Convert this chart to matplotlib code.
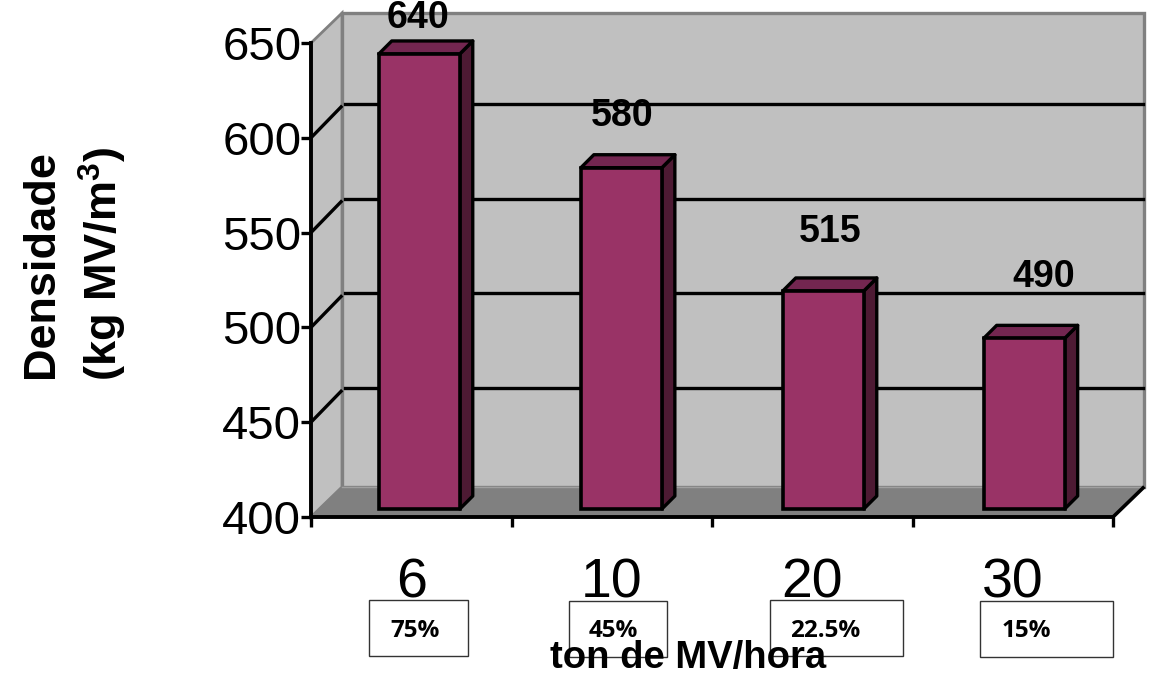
import matplotlib
matplotlib.use('Agg')
import matplotlib.pyplot as plt
from matplotlib.patches import Polygon, Rectangle

categories = ['6', '10', '20', '30']
densidade = [640, 580, 515, 490]
percent_labels = ['75%', '45%', '22.5%', '15%']
y_ticks = [400, 450, 500, 550, 600, 650]

W, H = 1161, 677
AX_LEFT, AX_RIGHT, AX_TOP, AX_BOTTOM = 311, 1113, 43, 517

WALL = '#C0C0C0'
GREY = '#808080'
BAR_FRONT = '#993366'
BAR_TOP = '#732650'
BAR_SIDE = '#4D1A33'

plt.rcParams['font.family'] = ['Liberation Sans']
plt.rcParams['mathtext.default'] = 'regular'

fig = plt.figure(figsize=(W / 100, H / 100), dpi=100)
ax = fig.add_axes([AX_LEFT / W, 1 - AX_BOTTOM / H, (AX_RIGHT - AX_LEFT) / W, (AX_BOTTOM - AX_TOP) / H])
ax.set_xlim(0.5, 4.5)
ax.set_ylim(400, 650)
ax.patch.set_visible(False)

# pixels to data units, for the fake 3D depth
px_x = 4 / (AX_RIGHT - AX_LEFT)
px_y = 250 / (AX_BOTTOM - AX_TOP)
depth_x = 31 * px_x
depth_y = 30 * px_y


def poly(points, **kw):
    p = Polygon(points, clip_on=False, **kw)
    ax.add_patch(p)


# back wall, left wall, floor
poly([(0.5 + depth_x, 400 + depth_y), (4.5 + depth_x, 400 + depth_y),
      (4.5 + depth_x, 650 + depth_y), (0.5 + depth_x, 650 + depth_y)],
     facecolor=WALL, edgecolor=GREY, linewidth=2.4, zorder=1)
poly([(0.5, 400), (0.5 + depth_x, 400 + depth_y), (0.5 + depth_x, 650 + depth_y), (0.5, 650)],
     facecolor=WALL, edgecolor=GREY, linewidth=2.0, zorder=1)
poly([(0.5, 400), (4.5, 400), (4.5 + depth_x, 400 + depth_y), (0.5 + depth_x, 400 + depth_y)],
     facecolor=GREY, edgecolor=GREY, linewidth=1.0, zorder=1.5)
ax.plot([0.5 + depth_x, 4.5 + depth_x], [400 + depth_y] * 2, color='#A0A0A0', lw=1.0,
        clip_on=False, zorder=1.6)
ax.plot([4.5, 4.5 + depth_x * 0.97], [400, 400 + depth_y * 0.97], color='black', lw=2.6,
        clip_on=False, zorder=2)

# gridlines on both walls, the back ones run slightly high
grid_lift = 4 * px_y
for v in y_ticks[1:-1]:
    ax.plot([0.5, 0.5 + depth_x * 0.97], [v, v + depth_y * 1.03], color='black', lw=2.4,
            clip_on=False, zorder=2)
    ax.plot([0.5 + depth_x * 1.1, 4.5 + depth_x * 0.97], [v + depth_y + grid_lift] * 2, color='black', lw=2.4,
            clip_on=False, zorder=2)

# bars sit a little behind the front edge of the floor
shift_x = 8 * px_x
shift_y = 8 * px_y
bar_w = 81 * px_x
side_x = 13 * px_x
side_y = 13 * px_y
xs = [1, 2.008, 3.015, 4.017]
for x, v in zip(xs, densidade):
    left = x + shift_x - bar_w / 2
    right = left + bar_w
    top = v + shift_y
    base = 400 + shift_y
    poly([(right, base), (right + side_x, base + side_y), (right + side_x, top + side_y), (right, top)],
         facecolor=BAR_SIDE, edgecolor='black', linewidth=2.4, joinstyle='round', zorder=3)
    poly([(left, top), (right, top), (right + side_x, top + side_y), (left + side_x, top + side_y)],
         facecolor=BAR_TOP, edgecolor='black', linewidth=2.4, joinstyle='round', zorder=3)
ax.bar([x + shift_x for x in xs], [v - 400 for v in densidade], width=bar_w, bottom=400 + shift_y,
       color=BAR_FRONT, edgecolor='black', linewidth=2.6, clip_on=False, zorder=4)

# value labels above each bar
label_offsets = [(-1, 26), (1, 42), (7, 49), (20, 51)]
for x, v, off in zip(xs, densidade, label_offsets):
    ax.annotate(str(v), xy=(x + shift_x, v), xytext=off, textcoords='offset pixels',
                ha='center', va='bottom', fontsize=27, fontweight='bold', zorder=6,
                annotation_clip=False)

# axes
for s in ['top', 'right']:
    ax.spines[s].set_visible(False)
for s in ['left', 'bottom']:
    ax.spines[s].set_linewidth(2.8)
    ax.spines[s].set_zorder(5)
ax.set_yticks(y_ticks)
ax.tick_params(axis='y', length=7, width=2.4, pad=0, labelsize=34)
ax.set_xticks([1, 2, 3, 4])
ax.set_xticklabels(categories)
ax.set_xticks([0.5, 1.5, 2.5, 3.5, 4.5], minor=True)
ax.tick_params(axis='x', which='major', length=0, pad=29, labelsize=40)
ax.tick_params(axis='x', which='minor', length=7, width=2.4)

# percentage boxes below the categories
boxes = [(369, 600, 99, 56), (569, 601, 98, 56), (770, 600, 133, 56), (980, 601, 133, 56)]
text_x = [390, 589, 790, 1002]
for (bx, by, bw, bh), tx, pct in zip(boxes, text_x, percent_labels):
    fig.add_artist(Rectangle((bx / W, 1 - (by + bh) / H), bw / W, bh / H, transform=fig.transFigure,
                             facecolor='white', edgecolor='#333333', linewidth=1.0, zorder=7))
    fig.text(tx / W, 1 - 631 / H, pct, ha='left', va='center', fontsize=17.5, fontweight='bold',
             family='Open Sans', zorder=8)

# axis titles
fig.text(688 / W, 1 - 658 / H, 'ton de MV/hora', ha='center', va='center', fontsize=27.5,
         fontweight='bold', zorder=9)
fig.text(41 / W, 1 - 264 / H, 'Densidade', rotation=90, ha='center', va='center', fontsize=32.5,
         fontweight='bold')
fig.text(103 / W, 1 - 264 / H, '(kg MV/m$^{3}$)', rotation=90, ha='center', va='center', fontsize=32.5,
         fontweight='bold')

fig.savefig('out.png', dpi=100)
